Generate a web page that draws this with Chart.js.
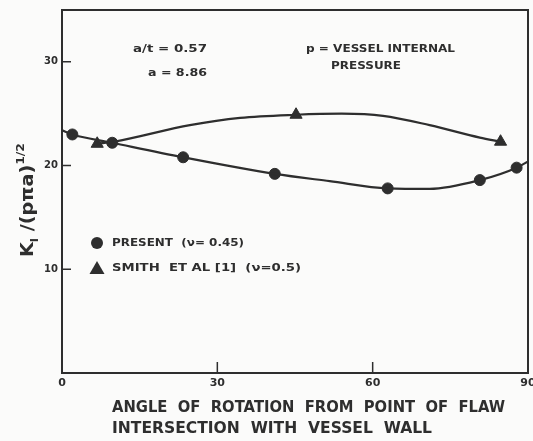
<!DOCTYPE html>
<html>
<head>
<meta charset="utf-8">
<script src="https://cdn.jsdelivr.net/npm/chart.js@4.4.0/dist/chart.umd.min.js"></script>
<style>
  html, body { margin: 0; padding: 0; background: #fbfbfa; }
</style>
</head>
<body>
<canvas id="myChart" width="533" height="441"></canvas>
<script>
//axis ticks
const xTicks = [0, 30, 60, 90];
const yTicks = [10, 20, 30];

//present study - marked points
const presentAngle = [2, 9.7, 23.4, 41.1, 62.9, 80.7, 87.8];
const presentK = [23.0, 22.2, 20.8, 19.2, 17.8, 18.6, 19.8];
//faired curve as drawn (runs wall to wall)
const presentCurveAngle = [0, 2, 9.7, 23.4, 41.1, 51.7, 62.9, 71, 80.7, 87.8, 90];
const presentCurveK = [23.4, 23.0, 22.2, 20.8, 19.2, 18.5, 17.8, 17.75, 18.6, 19.8, 20.4];

//Smith et al [1]
const smithAngle = [6.8, 45.2, 84.7];
const smithK = [22.1, 24.9, 22.3];
const smithCurveAngle = [6.8, 10, 24.7, 34.4, 45.2, 54, 62, 71, 80.7, 84.7];
const smithCurveK = [22.1, 22.3, 23.9, 24.6, 24.9, 25.0, 24.8, 23.9, 22.7, 22.3];

const ink = '#2e2e2e';
const family = '"DejaVu Sans", sans-serif';

const pts = (xs, ys) => xs.map((v, i) => ({x: v, y: ys[i]}));

//draw a string squeezed/stretched to a given width
function fitText(ctx, str, x, y, w, font) {
  ctx.font = font;
  const m = ctx.measureText(str).width;
  ctx.save();
  ctx.translate(x, y);
  ctx.scale(w / m, 1);
  ctx.fillText(str, 0, 0);
  ctx.restore();
}

const paperPlugin = {
  id: 'paper',
  beforeDraw(chart) {
    const c = chart.ctx;
    c.save();
    c.fillStyle = '#fbfbfa';
    c.fillRect(0, 0, chart.width, chart.height);
    c.restore();
  },
  afterDraw(chart) {
    const {ctx, chartArea: a, scales: {x, y}} = chart;
    ctx.save();
    ctx.strokeStyle = ink;
    ctx.lineWidth = 2;
    ctx.strokeRect(a.left, a.top, a.right - a.left, a.bottom - a.top);

    //ticks point inward
    ctx.lineWidth = 1.5;
    ctx.beginPath();
    yTicks.forEach(v => {
      const py = y.getPixelForValue(v);
      ctx.moveTo(a.left, py); ctx.lineTo(a.left + 9, py);
    });
    xTicks.slice(1, -1).forEach(v => {
      const px = x.getPixelForValue(v);
      ctx.moveTo(px, a.bottom); ctx.lineTo(px, a.bottom - 11);
    });
    ctx.stroke();

    ctx.fillStyle = ink;
    ctx.textBaseline = 'middle';
    ctx.textAlign = 'left';
    const b11 = 'bold 11px ' + family;
    fitText(ctx, 'a/t = 0.57', 133, 49, 74, b11);
    fitText(ctx, 'a = 8.86', 148, 73, 59, b11);
    fitText(ctx, 'p = VESSEL INTERNAL', 306, 49, 149, b11);
    fitText(ctx, 'PRESSURE', 331, 66, 70, b11);

    //legend
    ctx.beginPath();
    ctx.arc(97, 243, 6, 0, Math.PI * 2);
    ctx.fill();
    ctx.beginPath();
    ctx.moveTo(97, 261); ctx.lineTo(104.5, 274); ctx.lineTo(89.5, 274);
    ctx.closePath();
    ctx.fill();
    fitText(ctx, 'PRESENT  (\u03bd= 0.45)', 112, 243, 132, b11);
    fitText(ctx, 'SMITH  ET AL [1]  (\u03bd=0.5)', 112, 268, 189, b11);

    //x title
    const b16 = 'bold 16px ' + family;
    fitText(ctx, 'ANGLE  OF  ROTATION  FROM  POINT  OF  FLAW', 112, 408, 393, b16);
    fitText(ctx, 'INTERSECTION  WITH  VESSEL  WALL', 112, 429, 320, b16);

    //y title, rotated
    const runs = [
      ['K', 'bold 17px ' + family, 0],
      ['I', 'bold 10px ' + family, 5],
      [' /(p', 'bold 17px ' + family, 0],
      ['\u03c0', 'bold 17px ' + family, 0],
      ['a)', 'bold 17px ' + family, 0],
      ['1/2', 'bold 11px ' + family, -9]
    ];
    let total = 0;
    runs.forEach(r => { ctx.font = r[1]; total += ctx.measureText(r[0]).width; });
    ctx.translate(33, 257);
    ctx.rotate(-Math.PI / 2);
    ctx.scale(114 / total, 1);
    ctx.textBaseline = 'alphabetic';
    let cx = 0;
    runs.forEach(r => {
      ctx.font = r[1];
      ctx.fillText(r[0], cx, r[2]);
      cx += ctx.measureText(r[0]).width;
    });
    ctx.restore();
  }
};

const ctx = document.getElementById('myChart').getContext('2d');
const myChart = new Chart(ctx, {
  type: 'line',
  data: {
    datasets: [{
      label: 'Present curve',
      data: pts(presentCurveAngle, presentCurveK),
      borderColor: ink,
      borderWidth: 2.2,
      pointRadius: 0,
      cubicInterpolationMode: 'monotone'
    }, {
      label: 'Smith curve',
      data: pts(smithCurveAngle, smithCurveK),
      borderColor: ink,
      borderWidth: 2.2,
      pointRadius: 0,
      cubicInterpolationMode: 'monotone'
    }, {
      label: 'PRESENT (\u03bd= 0.45)',
      data: pts(presentAngle, presentK),
      showLine: false,
      pointStyle: 'circle',
      pointRadius: 5.5,
      backgroundColor: ink,
      borderColor: ink
    }, {
      label: 'SMITH ET AL [1] (\u03bd=0.5)',
      data: pts(smithAngle, smithK),
      showLine: false,
      pointStyle: 'triangle',
      pointRadius: 7,
      backgroundColor: ink,
      borderColor: ink
    }]
  },
  options: {
    responsive: false,
    animation: false,
    layout: {autoPadding: false, padding: {top: 10, right: 5}},
    plugins: {
      legend: {display: false},
      tooltip: {enabled: false}
    },
    scales: {
      x: {
        type: 'linear',
        min: 0,
        max: 90,
        grid: {display: false, tickLength: 0},
        border: {display: false},
        afterBuildTicks: s => { s.ticks = xTicks.map(v => ({value: v})); },
        afterFit: s => { s.height = 68; s.paddingLeft = 0; s.paddingRight = 0; },
        ticks: {
          color: ink,
          font: {family: family, weight: 'bold', size: 11},
          padding: 4,
          maxRotation: 0,
          autoSkip: false
        }
      },
      y: {
        min: 0,
        max: 35,
        grid: {display: false, tickLength: 0},
        border: {display: false},
        afterBuildTicks: s => { s.ticks = yTicks.map(v => ({value: v})); },
        afterFit: s => { s.width = 62; s.paddingTop = 0; s.paddingBottom = 0; },
        ticks: {
          color: ink,
          font: {family: family, weight: 'bold', size: 10},
          padding: 4
        }
      }
    }
  },
  plugins: [paperPlugin]
});
</script>
</body>
</html>
